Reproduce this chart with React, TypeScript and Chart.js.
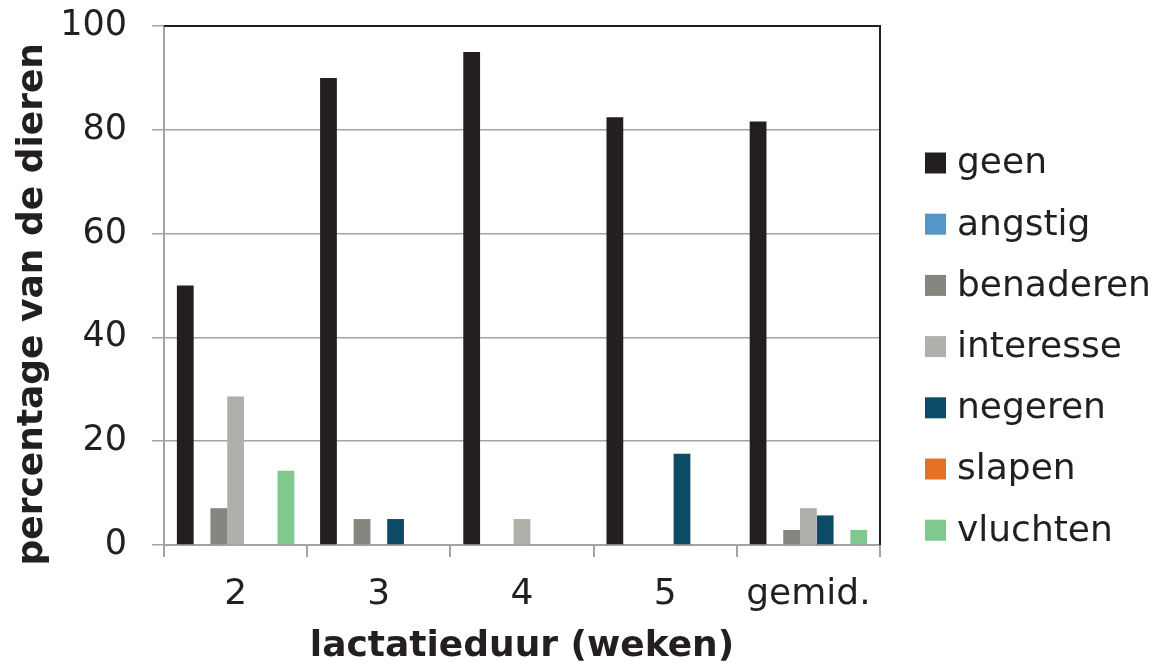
import React, { useEffect, useRef } from "react";
import { Chart, registerables } from "chart.js";

Chart.register(...registerables);

const categories = ["2", "3", "4", "5", "gemid."];
const seriesNames = ["geen", "angstig", "benaderen", "interesse", "negeren", "slapen", "vluchten"];
const seriesColors = ["#231f20", "#5596c8", "#878580", "#b0b0aa", "#0c4a66", "#e57224", "#80c88e"];

const geen = [50, 90, 95, 82.4, 81.6];
const angstig = [0, 0, 0, 0, 0];
const benaderen = [7.1, 5, 0, 0, 2.9];
const interesse = [28.6, 0, 5, 0, 7.1];
const negeren = [0, 5, 0, 17.6, 5.7];
const slapen = [0, 0, 0, 0, 0];
const vluchten = [14.3, 0, 0, 0, 2.9];

const seriesValues = [geen, angstig, benaderen, interesse, negeren, slapen, vluchten];
const yTicks = [0, 20, 40, 60, 80, 100];

const TEXT = "#231f20";
const GRID = "#a3a3a3";
const FONT = "'DejaVu Sans', Verdana, sans-serif";

const framePlugin = {
  id: "frameAndLegend",
  afterDraw(chart: any) {
    const { ctx, chartArea } = chart;
    ctx.save();
    ctx.strokeStyle = TEXT;
    ctx.lineWidth = 2;
    ctx.beginPath();
    ctx.moveTo(chartArea.left, chartArea.top);
    ctx.lineTo(chartArea.right, chartArea.top);
    ctx.lineTo(chartArea.right, chartArea.bottom);
    ctx.stroke();

    const ds = chart.data.datasets;
    const boxX = chartArea.right + 45;
    const box = 21;
    const startY = 163;
    const step = 61.2;
    ctx.font = `36px ${FONT}`;
    ctx.textBaseline = "middle";
    ctx.textAlign = "left";
    ds.forEach((d: any, i: number) => {
      const cy = startY + i * step;
      ctx.fillStyle = d.backgroundColor;
      ctx.fillRect(boxX, cy - box / 2, box, box);
      ctx.fillStyle = TEXT;
      ctx.fillText(d.label, boxX + 32, cy + 1);
    });
    ctx.restore();
  },
};

export default function App() {
  const ref = useRef<HTMLCanvasElement | null>(null);

  useEffect(() => {
    document.body.style.margin = "0";
    const canvas = ref.current;
    if (!canvas) return;
    const chart = new Chart(canvas, {
      type: "bar",
      data: {
        labels: categories,
        datasets: seriesNames.map((name, i) => ({
          label: name,
          data: seriesValues[i],
          backgroundColor: seriesColors[i],
          borderWidth: 0,
          categoryPercentage: 0.82,
          barPercentage: 1,
        })),
      },
      options: {
        responsive: false,
        animation: false,
        devicePixelRatio: 1,
        layout: { padding: { top: 26, right: 285, left: 0, bottom: 0 } },
        plugins: {
          legend: { display: false },
          tooltip: { enabled: false },
          title: { display: false },
        },
        scales: {
          x: {
            offset: true,
            grid: {
              offset: true,
              drawOnChartArea: false,
              drawTicks: true,
              tickLength: 12,
              color: GRID,
              lineWidth: 2,
            },
            border: { display: true, color: GRID, width: 2 },
            ticks: {
              color: TEXT,
              font: { family: FONT, size: 36 },
              padding: 16,
              maxRotation: 0,
              autoSkip: false,
            },
            title: {
              display: true,
              text: "lactatieduur (weken)",
              color: TEXT,
              font: { family: FONT, size: 36, weight: "bold" },
              padding: { top: 0, bottom: 3 },
            },
            afterFit(scale: any) {
              scale.height = 126;
            },
          },
          y: {
            min: 0,
            max: 100,
            afterBuildTicks(scale: any) {
              scale.ticks = yTicks.map((v) => ({ value: v }));
            },
            grid: {
              color: GRID,
              lineWidth: 1.5,
              drawTicks: true,
              tickLength: 12,
            },
            border: { display: true, color: GRID, width: 2 },
            ticks: {
              color: TEXT,
              font: { family: FONT, size: 35 },
              padding: 25,
            },
            title: {
              display: true,
              text: "percentage van de dieren   ",
              color: TEXT,
              font: { family: FONT, size: 36, weight: "bold" },
              padding: { top: 11, bottom: 0 },
            },
            afterFit(scale: any) {
              scale.width = 164;
              scale.paddingTop = 0;
              scale.paddingBottom = 0;
            },
          },
        },
      },
      plugins: [framePlugin],
    });
    return () => chart.destroy();
  }, []);

  return (
    <div style={{ position: "absolute", left: 0, top: 0, width: 1165, height: 671 }}>
      <canvas ref={ref} width={1165} height={671} style={{ width: 1165, height: 671 }} />
    </div>
  );
}
